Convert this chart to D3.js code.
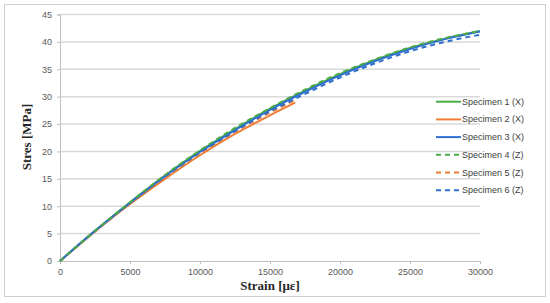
<!DOCTYPE html>
<html><head><meta charset="utf-8">
<script src="https://cdn.jsdelivr.net/npm/d3@7"></script>
<style>body{margin:0;background:#fff;} svg{display:block;}</style>
</head><body>
<svg id="c" width="550" height="303"></svg>
<script>
const xTicks = [0,5000,10000,15000,20000,25000,30000];
const yTicks = [0,5,10,15,20,25,30,35,40,45];
const strain = [0,2500,5000,7500,10000,12500,15000,17500,20000,22500,25000,27500,30000];
const s1 = [0,5.5,10.7,15.6,20.1,24.1,27.8,31.1,34.1,36.7,38.9,40.6,42.0];
const s3 = [0,5.5,10.6,15.5,19.9,23.9,27.6,30.9,33.9,36.5,38.7,40.5,41.9];
const s4 = [0,5.5,10.7,15.7,20.2,24.3,27.9,31.3,34.3,36.8,39.0,40.7,42.0];
const s6 = [0,5.5,10.6,15.4,19.8,23.7,27.3,30.5,33.5,36.1,38.3,40.0,41.3];
const strainShort = [0,2500,5000,7500,10000,12500,15000,16800];
const s2 = [0,5.4,10.4,15.0,19.3,23.2,26.6,28.9];
const strainShort5 = [0,2500,5000,7500,10000,12500,15000,16900];
const s5 = [0,5.4,10.5,15.3,19.7,23.6,27.1,29.5];
const names = ["Specimen 1 (X)","Specimen 2 (X)","Specimen 3 (X)","Specimen 4 (Z)","Specimen 5 (Z)","Specimen 6 (Z)"];
const colors = ["#4aab47","#f07d35","#2f6fcf","#4aab47","#f07d35","#2f6fcf"];
const dashed = [false,false,false,true,true,true];

const svg = d3.select("#c");
svg.append("rect").attr("x",4.5).attr("y",4.5).attr("width",541).attr("height",292)
  .attr("fill","#fff").attr("stroke","#d0d0d0");

const x = d3.scaleLinear().domain([0,30000]).range([60,480]);
const y = d3.scaleLinear().domain([0,45]).range([261,14.5]);

// gridlines
svg.append("g").selectAll("line").data(yTicks.filter(d=>d>0)).join("line")
  .attr("x1",60).attr("x2",480).attr("y1",d=>y(d)).attr("y2",d=>y(d))
  .attr("stroke","#d9d9d9").attr("stroke-width",1.5);

const tickFont = "Liberation Sans, Arial, sans-serif";
const gx = svg.append("g").attr("transform","translate(0,261)")
  .call(d3.axisBottom(x).tickValues(xTicks).tickSize(3).tickPadding(5).tickFormat(d3.format("d")));
const gy = svg.append("g").attr("transform","translate(60,0)")
  .call(d3.axisLeft(y).tickValues(yTicks).tickSize(3).tickPadding(5));
[gx,gy].forEach(g=>{
  g.select(".domain").attr("stroke","#bfbfbf");
  g.selectAll(".tick line").attr("stroke","#bfbfbf");
  g.selectAll("text").attr("fill","#595959").attr("font-family",tickFont).attr("font-size","9px");
});

const line = d3.line().x(d=>x(d[0])).y(d=>y(d[1])).curve(d3.curveMonotoneX);
const series = [
  {i:0, xs:strain, ys:s1},
  {i:1, xs:strainShort, ys:s2},
  {i:4, xs:strainShort5, ys:s5},
  {i:5, xs:strain, ys:s6},
  {i:2, xs:strain, ys:s3},
  {i:3, xs:strain, ys:s4}
];
series.forEach(s=>{
  svg.append("path").datum(s.xs.map((v,k)=>[v,s.ys[k]]))
    .attr("d",line).attr("fill","none").attr("stroke",colors[s.i])
    .attr("stroke-width",2).attr("stroke-dasharray",dashed[s.i]?"5,4":null);
});

// legend
const lg = svg.append("g");
names.forEach((n,k)=>{
  const yy = 101.7 + k*17.7;
  lg.append("line").attr("x1",436).attr("x2",461).attr("y1",yy).attr("y2",yy)
    .attr("stroke",colors[k]).attr("stroke-width",2).attr("stroke-dasharray",dashed[k]?"5,4":null);
  lg.append("text").attr("x",462).attr("y",yy+3).text(n)
    .attr("font-family",tickFont).attr("font-size","9px").attr("fill","#404040");
});

// axis titles
svg.append("text").attr("x",270).attr("y",290).attr("text-anchor","middle")
  .attr("font-family","Liberation Serif, Times New Roman, serif").attr("font-weight","bold")
  .attr("font-size","13px").attr("fill","#262626").text("Strain [με]");
svg.append("text").attr("transform","translate(31,137) rotate(-90)").attr("text-anchor","middle")
  .attr("font-family","Liberation Serif, Times New Roman, serif").attr("font-weight","bold")
  .attr("font-size","13px").attr("fill","#262626").text("Stres [MPa]");
</script>
</body></html>
